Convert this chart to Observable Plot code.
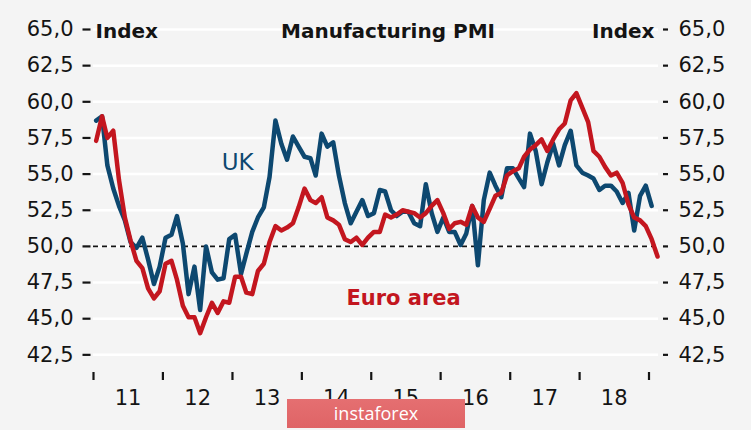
<!DOCTYPE html>
<html>
<head>
<meta charset="utf-8">
<script src="https://cdn.jsdelivr.net/npm/d3@7"></script>
<script src="https://cdn.jsdelivr.net/npm/@observablehq/plot@0.6"></script>
<style>
  html, body { margin: 0; padding: 0; background: #f4f4f4; }
  #wrap { position: relative; width: 751px; height: 430px; overflow: hidden; }
  .wm {
    position: absolute; left: 287px; top: 399px; width: 178px; height: 29px;
    background: linear-gradient(#e56f71, #df6466);
    color: #fff; font-family: "Open Sans", "DejaVu Sans", sans-serif; font-size: 18px;
    line-height: 29px; text-align: center; letter-spacing: 0px;
  }
</style>
</head>
<body>
<div id="wrap"></div>
<script>
// ---- data (monthly, Jan 2011 onward) ----
const startYear = 2011;
const ukValues = [
  58.7, 59.0, 55.6, 54.0, 52.8, 51.8, 50.3, 49.9, 50.6, 49.1, 47.4, 48.6,
  50.6, 50.8, 52.1, 50.2, 46.7, 48.6, 45.6, 50.0, 48.2, 47.7, 47.8, 50.5,
  50.8, 48.1, 49.5, 51.0, 52.0, 52.7, 54.8, 58.7, 57.1, 56.0, 57.6, 56.9,
  56.2, 56.1, 54.9, 57.8, 56.9, 57.2, 54.9, 53.0, 51.6, 52.4, 53.2, 52.1,
  52.3, 53.9, 53.8, 52.5, 52.1, 52.4, 52.4, 51.6, 51.4, 54.3, 52.3, 51.0,
  52.0, 51.0, 51.0, 50.1, 50.9, 52.8, 48.7, 53.2, 55.1, 54.2, 53.4, 55.4,
  55.4, 54.7, 54.1, 57.8, 56.6, 54.3, 55.8, 57.1, 55.6, 57.0, 58.0, 55.6,
  55.1, 54.9, 54.7, 53.9, 54.2, 54.2, 53.8, 53.0, 53.7, 51.1, 53.5, 54.2,
  52.8
];
const euroValues = [
  57.3, 59.0, 57.5, 58.0, 54.6, 52.0, 50.4, 49.0, 48.5, 47.1, 46.4, 46.9,
  48.8, 49.0, 47.7, 45.9, 45.1, 45.1, 44.0, 45.1, 46.1, 45.4, 46.2, 46.1,
  47.9, 47.9, 46.8, 46.7, 48.3, 48.8, 50.3, 51.4, 51.1, 51.3, 51.6, 52.7,
  54.0, 53.2, 53.0, 53.4, 52.0, 51.8, 51.5, 50.5, 50.3, 50.6, 50.1, 50.6,
  51.0, 51.0, 52.2, 52.0, 52.2, 52.5, 52.4, 52.3, 52.0, 52.3, 52.8, 53.2,
  52.3, 51.2, 51.6, 51.7, 51.5, 52.8, 52.0, 51.7, 52.6, 53.5, 53.7, 54.9,
  55.2, 55.4, 56.2, 56.7, 57.0, 57.4, 56.6, 57.4, 58.1, 58.5, 60.1, 60.6,
  59.6, 58.6, 56.6, 56.2, 55.5, 54.9, 55.1, 54.4, 52.9, 52.0, 51.8, 51.4,
  50.5, 49.3
];
const yTicks = [42.5, 45, 47.5, 50, 52.5, 55, 57.5, 60, 62.5, 65];
const yearLabels = [2011, 2012, 2013, 2014, 2015, 2016, 2017, 2018];
const yearTicks = [2011, 2012, 2013, 2014, 2015, 2016, 2017, 2018, 2019];
const seriesNames = ["UK", "Euro area"];
const labelDates = [new Date(Date.UTC(2013, 0, 28)), new Date(Date.UTC(2015, 5, 20))];
const labelValues = [55.8, 46.4];
const titleText = "Manufacturing PMI";
const unitText = "Index";
const referenceLevel = 50;

// ---- build tables ----
const monthDate = i => new Date(Date.UTC(startYear, i, 15));
const uk = ukValues.map((v, i) => ({date: monthDate(i), value: v}));
const euro = euroValues.map((v, i) => ({date: monthDate(i), value: v}));
const tickDates = yearTicks.map(y => new Date(Date.UTC(y, 0, 1)));
const midDates = yearLabels.map(y => new Date(Date.UTC(y, 6, 2)));

const BLUE = "#0d4870";
const RED = "#c3161f";
const INK = "#141414";
const fmt = d => d.toFixed(1).replace(".", ",");

const chart = Plot.plot({
  width: 751,
  height: 430,
  marginLeft: 93,
  marginRight: 93,
  marginTop: 29,
  marginBottom: 58,
  style: {background: "#f4f4f4", fontFamily: "DejaVu Sans, sans-serif", fontSize: "21px", color: INK, overflow: "visible"},
  x: {type: "utc", label: null, domain: [new Date(Date.UTC(2011, 0, 1)), new Date(Date.UTC(2019, 1, 20))]},
  y: {label: null, domain: [41.28, 65]},
  marks: [
    Plot.gridY(yTicks, {stroke: "#ffffff", strokeOpacity: 1, strokeWidth: 2.5}),
    Plot.ruleY([referenceLevel], {stroke: INK, strokeWidth: 1.6, strokeDasharray: "5,4"}),
    Plot.lineY(uk, {x: "date", y: "value", stroke: BLUE, strokeWidth: 4.5, strokeLinejoin: "round"}),
    Plot.lineY(euro, {x: "date", y: "value", stroke: RED, strokeWidth: 4.5, strokeLinejoin: "round"}),
    Plot.axisY(yTicks, {anchor: "left", label: null, tickSize: 8, tickPadding: 9.5, dx: -2.5, tickFormat: fmt, strokeWidth: 2.2, stroke: INK, fill: INK, fontSize: 21, letterSpacing: "1px"}),
    Plot.axisY(yTicks, {anchor: "right", label: null, tickSize: 5, tickPadding: 11, dx: 4, tickFormat: fmt, strokeWidth: 2.2, stroke: INK, fill: INK, fontSize: 21, letterSpacing: "1px"}),
    Plot.axisX(tickDates, {label: null, tickSize: 8, tickFormat: () => "", strokeWidth: 2.2, stroke: INK}),
    Plot.axisX(midDates, {label: null, tickSize: 0, tickPadding: 18, tickFormat: d => String(d.getUTCFullYear() % 100), fill: INK, fontSize: 21, letterSpacing: "1px"}),
    Plot.text([unitText], {frameAnchor: "top-left", textAnchor: "start", lineAnchor: "middle", dx: 2, dy: 2, fontSize: 20, fontWeight: "bold", fill: INK}),
    Plot.text([unitText], {frameAnchor: "top-right", textAnchor: "end", lineAnchor: "middle", dx: -4, dy: 2, fontSize: 20, fontWeight: "bold", fill: INK}),
    Plot.text([titleText], {frameAnchor: "top", lineAnchor: "middle", dx: 12, dy: 2, fontSize: 20, fontWeight: "bold", fill: INK}),
    Plot.text([0], {x: d => labelDates[d], y: d => labelValues[d], text: d => seriesNames[d], fill: BLUE, fontSize: 23, lineAnchor: "middle"}),
    Plot.text([1], {x: d => labelDates[d], y: d => labelValues[d], text: d => seriesNames[d], fill: RED, fontSize: 21, fontWeight: "bold", lineAnchor: "middle"})
  ]
});

const wrap = document.getElementById("wrap");
wrap.appendChild(chart);
const wm = document.createElement("div");
wm.className = "wm";
wm.textContent = "instaforex";
wrap.appendChild(wm);
</script>
</body>
</html>
